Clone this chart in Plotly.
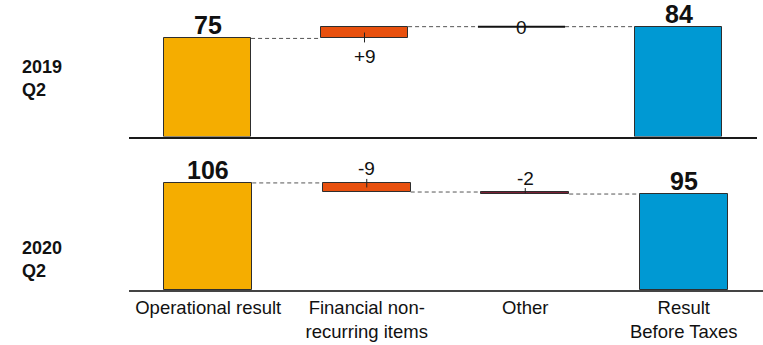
import plotly.graph_objects as go

# ---- data ----
categories = ["Operational result", "Financial non-<br>recurring items", "Other", "Result<br>Before Taxes"]
periods = ["2019<br>Q2", "2020<br>Q2"]
start_values = [75, 106]
deltas = [[9, 0], [-9, -2]]
totals = [84, 95]

# ---- style ----
W, H = 763, 345
FONT = "Liberation Sans, Arial, sans-serif"
C_START = "#F5AD00"
C_TOTAL = "#0099D3"
delta_colors = [["#E8500E", "#111111"], ["#E8500E", "#7A1E34"]]
BAR_W = 0.555

# panel geometry (paper fractions)
panels = [
    dict(xdom=[129 / W, 757 / W], ydom=[1 - 136.5 / H, 1 - 6 / H], ymax=99.8),
    dict(xdom=[129 / W, 1.0], ydom=[1 - 290 / H, 1 - 160 / H], ymax=128.7),
]
label_y = [1 - 79 / H, 1 - 259 / H]

fig = go.Figure()
shapes = []
annotations = []

for p, panel in enumerate(panels):
    xa = "x" if p == 0 else "x2"
    ya = "y" if p == 0 else "y2"
    px_per_unit = (panel["ydom"][1] - panel["ydom"][0]) * H / panel["ymax"]

    vals = [start_values[p]] + deltas[p] + [totals[p]]
    n = len(vals)
    xs = list(range(n))
    bases, heights, colors = [], [], []
    running = 0
    levels = []
    for i, v in enumerate(vals):
        if i == 0 or i == n - 1:
            bases.append(0)
            heights.append(v)
            colors.append(C_START if i == 0 else C_TOTAL)
            running = v
        else:
            bases.append(min(running, running + v))
            heights.append(abs(v))
            colors.append(delta_colors[p][i - 1])
            running += v
        levels.append(running)

    fig.add_trace(go.Bar(
        x=xs, y=heights, base=bases, width=BAR_W,
        marker=dict(color=colors, line=dict(color="#2e2e2e", width=[1 if h else 0 for h in heights])),
        xaxis=xa, yaxis=ya, showlegend=False, hoverinfo="skip",
    ))

    # connectors
    for i in range(n - 1):
        shapes.append(dict(type="line", xref=xa, yref=ya,
                           x0=i + BAR_W / 2, x1=i + 1 - BAR_W / 2,
                           y0=levels[i], y1=levels[i],
                           line=dict(color="#555555", width=1, dash="4px,3px")))

    # labels
    for i, v in enumerate(vals):
        if i == 0 or i == n - 1:
            annotations.append(dict(xref=xa, yref=ya, x=i, y=v, text=f"<b>{v}</b>",
                                    showarrow=False, yanchor="bottom", yshift=-3,
                                    font=dict(family=FONT, size=25, color="#111111")))
        else:
            top = bases[i] + heights[i]
            bot = bases[i]
            half_px = heights[i] * px_per_unit / 2
            mid = (top + bot) / 2
            if v == 0:
                shapes.append(dict(type="line", xref=xa, yref=ya,
                                   x0=i - BAR_W / 2, x1=i + BAR_W / 2, y0=mid, y1=mid,
                                   line=dict(color="#111111", width=2)))
                annotations.append(dict(xref=xa, yref=ya, x=i, y=mid, text=f"{v}",
                                        showarrow=False, yanchor="middle", yshift=-1,
                                        font=dict(family=FONT, size=19, color="#111111")))
            elif v > 0:
                shapes.append(dict(type="line", xref=xa, yref=ya, ysizemode="pixel", yanchor=mid,
                                   x0=i, x1=i, y0=0, y1=-(half_px + 4),
                                   line=dict(color="#222222", width=1)))
                annotations.append(dict(xref=xa, yref=ya, x=i, y=bot, text=f"+{v}",
                                        showarrow=False, yanchor="middle", yshift=-18,
                                        font=dict(family=FONT, size=19, color="#111111")))
            else:
                shapes.append(dict(type="line", xref=xa, yref=ya, ysizemode="pixel", yanchor=mid,
                                   x0=i, x1=i, y0=0, y1=(half_px + 4),
                                   line=dict(color="#222222", width=1)))
                annotations.append(dict(xref=xa, yref=ya, x=i, y=top, text=f"{v}",
                                        showarrow=False, yanchor="middle", yshift=14,
                                        font=dict(family=FONT, size=19, color="#111111")))

    annotations.append(dict(xref="paper", yref="paper", x=20 / W, y=label_y[p],
                            xanchor="left", yanchor="middle", align="left",
                            text=f"<b>{periods[p]}</b>", showarrow=False,
                            font=dict(family=FONT, size=18, color="#111111")))

axis_common = dict(range=[-0.5, 3.5], showgrid=False, zeroline=False, showline=True, ticks="",
                   fixedrange=True, automargin=False)
fig.update_layout(
    width=W, height=H,
    margin=dict(l=0, r=0, t=0, b=0, autoexpand=False),
    paper_bgcolor="white", plot_bgcolor="white",
    bargap=0,
    xaxis=dict(domain=panels[0]["xdom"], anchor="y", linecolor="#1a1a1a", linewidth=2,
               showticklabels=False, **axis_common),
    yaxis=dict(domain=panels[0]["ydom"], range=[0, panels[0]["ymax"]], visible=False,
               automargin=False),
    xaxis2=dict(domain=panels[1]["xdom"], anchor="y2", linecolor="#444444", linewidth=1.5,
                tickvals=list(range(4)), ticktext=categories, ticklabelstandoff=0,
                tickfont=dict(family=FONT, size=18.5, color="#111111"), **axis_common),
    yaxis2=dict(domain=panels[1]["ydom"], range=[0, panels[1]["ymax"]], visible=False,
                automargin=False),
    shapes=shapes,
    annotations=annotations,
    font=dict(family=FONT),
)

fig.write_html("out.html")
